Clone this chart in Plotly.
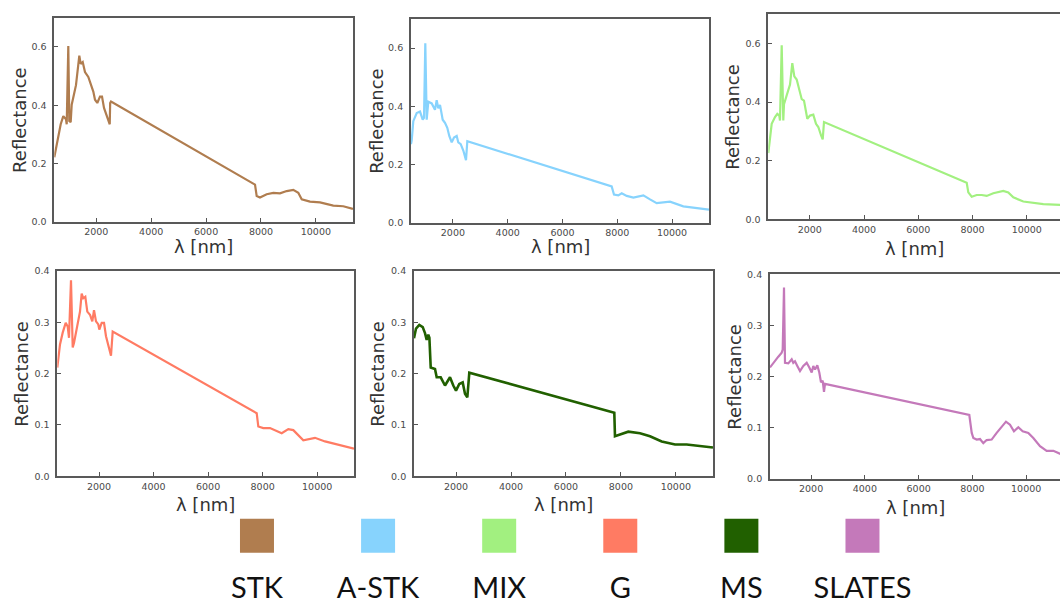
import plotly.graph_objects as go

# ---- spectra (wavelength in nm, reflectance) ----
wl_stk = [470, 616, 703, 798, 896, 922, 980, 1016, 1067, 1104, 1260, 1381, 1432, 1505, 1588, 1709,
          1771, 1832, 1891, 1953, 2036, 2135, 2208, 2281, 2353, 2437, 2490, 2505, 2535, 7782, 7843,
          7963, 8207, 8448, 8692, 8936, 9177, 9359, 9483, 9785, 10150, 10634, 10998, 11350]
r_stk = [0.222, 0.302, 0.335, 0.363, 0.352, 0.335, 0.603, 0.346, 0.342, 0.402, 0.469, 0.570, 0.542,
         0.548, 0.514, 0.497, 0.480, 0.464, 0.447, 0.419, 0.408, 0.430, 0.430, 0.391, 0.374, 0.352,
         0.335, 0.408, 0.413, 0.128, 0.089, 0.084, 0.095, 0.100, 0.098, 0.106, 0.110, 0.100, 0.078,
         0.070, 0.067, 0.056, 0.054, 0.045]

wl_astk = [470, 495, 554, 678, 799, 897, 945, 992, 1043, 1102, 1226, 1346, 1408, 1467, 1529, 1627,
           1711, 1795, 1868, 1956, 2040, 2138, 2197, 2285, 2380, 2478, 2526, 7797, 7881, 8039, 8163,
           8346, 8589, 8954, 9196, 9440, 9926, 10412, 11350]
r_astk = [0.270, 0.282, 0.349, 0.377, 0.382, 0.354, 0.360, 0.617, 0.354, 0.416, 0.410, 0.388, 0.421,
          0.393, 0.405, 0.354, 0.343, 0.326, 0.298, 0.276, 0.293, 0.298, 0.276, 0.270, 0.248, 0.215,
          0.280, 0.125, 0.097, 0.094, 0.101, 0.092, 0.086, 0.094, 0.080, 0.067, 0.072, 0.056, 0.045]

wl_mix = [470, 595, 717, 802, 876, 901, 964, 1023, 1049, 1171, 1270, 1355, 1429, 1517, 1602, 1702,
          1786, 1830, 1908, 2008, 2129, 2229, 2314, 2413, 2476, 2524, 7786, 7845, 7970, 8154, 8339,
          8523, 8766, 9135, 9319, 9504, 9873, 10610, 11229, 11350]
r_mix = [0.226, 0.326, 0.349, 0.360, 0.354, 0.337, 0.594, 0.337, 0.393, 0.427, 0.460, 0.533, 0.488,
         0.477, 0.444, 0.410, 0.405, 0.380, 0.343, 0.354, 0.357, 0.326, 0.315, 0.287, 0.273, 0.332,
         0.125, 0.092, 0.077, 0.083, 0.083, 0.080, 0.089, 0.097, 0.092, 0.075, 0.061, 0.052, 0.050,
         0.049]

wl_g = [470, 569, 668, 778, 851, 899, 972, 1035, 1082, 1156, 1240, 1302, 1364, 1423, 1497, 1570,
        1669, 1753, 1816, 1889, 1974, 2010, 2098, 2183, 2256, 2340, 2439, 2501, 7782, 7841, 8024,
        8270, 8515, 8699, 8941, 9124, 9491, 9920, 10287, 10716, 11350]
r_g = [0.212, 0.257, 0.280, 0.299, 0.292, 0.270, 0.382, 0.251, 0.260, 0.283, 0.308, 0.321, 0.356,
       0.347, 0.350, 0.321, 0.315, 0.302, 0.324, 0.302, 0.296, 0.286, 0.299, 0.299, 0.273, 0.257,
       0.235, 0.282, 0.123, 0.097, 0.094, 0.094, 0.088, 0.084, 0.092, 0.090, 0.070, 0.075, 0.068,
       0.062, 0.054]

wl_ms = [470, 543, 663, 787, 870, 932, 990, 1030, 1078, 1234, 1296, 1442, 1598, 1780, 1900, 1998,
         2118, 2242, 2326, 2410, 2483, 7759, 7784, 7941, 8269, 8694, 9058, 9484, 9968, 10393, 10757,
         11350]
r_ms = [0.269, 0.288, 0.295, 0.291, 0.279, 0.266, 0.276, 0.270, 0.212, 0.209, 0.193, 0.193, 0.177,
        0.193, 0.177, 0.167, 0.180, 0.183, 0.161, 0.154, 0.202, 0.124, 0.078, 0.081, 0.087, 0.084,
        0.078, 0.068, 0.062, 0.062, 0.060, 0.056]

wl_slates = [470, 594, 779, 905, 942, 991, 1028, 1151, 1277, 1337, 1400, 1486, 1586, 1709, 1835,
             1932, 2021, 2081, 2144, 2230, 2304, 2367, 2430, 2479, 2516, 7885, 7937, 7975, 8035,
             8159, 8282, 8406, 8530, 8716, 8903, 9089, 9249, 9398, 9546, 9707, 9871, 10080, 10266,
             10515, 10764, 11012, 11259, 11350]
r_slates = [0.218, 0.227, 0.239, 0.247, 0.253, 0.374, 0.227, 0.226, 0.234, 0.227, 0.230, 0.221,
            0.211, 0.221, 0.227, 0.218, 0.208, 0.221, 0.214, 0.222, 0.208, 0.189, 0.192, 0.170,
            0.186, 0.125, 0.102, 0.090, 0.080, 0.077, 0.078, 0.070, 0.076, 0.077, 0.090, 0.103,
            0.112, 0.106, 0.093, 0.101, 0.093, 0.090, 0.080, 0.064, 0.055, 0.055, 0.048, 0.047]

classes = ["STK", "A-STK", "MIX", "G", "MS", "SLATES"]
colors = ["#b07d4f", "#87d3fd", "#a2f080", "#ff7b63", "#216000", "#c479ba"]
spectra = [(wl_stk, r_stk), (wl_astk, r_astk), (wl_mix, r_mix),
           (wl_g, r_g), (wl_ms, r_ms), (wl_slates, r_slates)]

x_ticks = [2000, 4000, 6000, 8000, 10000]
y_ticks_top = [0.0, 0.2, 0.4, 0.6]
y_ticks_bottom = [0.0, 0.1, 0.2, 0.3, 0.4]

# ---- panel layout (pixel frame of each axes box) ----
W, H = 1060, 605
frames = [  # left, right, top, bottom, x max, y max
    (54.3, 353.0, 12.0, 220.0, 11352, 0.7),
    (411.0, 709.0, 13.3, 220.7, 11350, 0.7),
    (768.3, 1060.0, 8.3, 217.3, 11226, 0.7),
    (57.3, 354.0, 270.0, 479.0, 11350, 0.4),
    (414.0, 713.0, 270.0, 479.0, 11351, 0.4),
    (770.0, 1060.0, 273.3, 481.7, 11259, 0.4),
]
ylab_x = [20, 377, 733, 22, 378, 735]
xlab_y = [245, 245, 247, 508, 508, 511]

fig = go.Figure()
annotations = []
tick_font = dict(family="DejaVu Sans", size=9.5, color="#4a4a4a")
title_font = dict(family="DejaVu Sans", size=18, color="#333333")

for i, ((wl, r), col, fr) in enumerate(zip(spectra, colors, frames)):
    n = "" if i == 0 else str(i + 1)
    left, right, top, bottom, xmax, ymax = fr
    lw = 2.6 if classes[i] == "MS" else 2.2
    fig.add_trace(go.Scatter(x=wl, y=r, mode="lines", line=dict(color=col, width=lw),
                             xaxis="x" + n, yaxis="y" + n, showlegend=False,
                             hoverinfo="skip"))
    cut = right >= W  # axes box runs past the right edge
    fig.layout["xaxis" + n] = dict(
        domain=[left / W, right / W], anchor="y" + n, range=[470, xmax],
        tickvals=x_ticks, ticktext=[str(v) for v in x_ticks], ticks="inside", ticklen=4,
        tickcolor="#555", showline=True, mirror=True, linecolor="#595959", linewidth=1.8,
        showgrid=False, zeroline=False, tickfont=tick_font, ticklabelstandoff=0)
    yt = y_ticks_top if ymax > 0.5 else y_ticks_bottom
    fig.layout["yaxis" + n] = dict(
        domain=[(H - bottom) / H, (H - top) / H], anchor="x" + n, range=[0, ymax],
        tickvals=yt, ticktext=[f"{v:.1f}" for v in yt], ticks="inside", ticklen=4,
        tickcolor="#555", showline=True, mirror=(not cut), linecolor="#595959", linewidth=1.8,
        showgrid=False, zeroline=False, tickfont=tick_font, ticklabelstandoff=4)
    annotations.append(dict(text="Reflectance", x=ylab_x[i] / W, y=(H - (top + bottom) / 2) / H,
                            xref="paper", yref="paper", textangle=-90, showarrow=False,
                            font=title_font, xanchor="center", yanchor="middle"))
    annotations.append(dict(text="λ [nm]", x=(left + min(right, left + 298)) / 2 / W,
                            y=(H - xlab_y[i]) / H, xref="paper", yref="paper",
                            showarrow=False, font=title_font, xanchor="center",
                            yanchor="middle"))

# ---- class key: colour swatches with names below ----
idx = list(range(len(classes)))
fig.add_trace(go.Scatter(x=idx, y=[1] * len(idx), mode="markers", xaxis="x7", yaxis="y7",
                         marker=dict(symbol="square", size=34, color=colors,
                                     line=dict(width=0)),
                         showlegend=False, hoverinfo="skip"))
fig.add_trace(go.Scatter(x=idx, y=[-0.2] * len(idx), mode="text", text=classes, xaxis="x7",
                         yaxis="y7", textfont=dict(family="Lato", size=29, color="#111111"),
                         textposition="middle center", showlegend=False, hoverinfo="skip"))
fig.layout["xaxis7"] = dict(domain=[0, 1], anchor="y7", range=[-2.122, 6.631], visible=False)
fig.layout["yaxis7"] = dict(domain=[0, 0.2], anchor="x7", range=[-0.394, 2.181], visible=False)

fig.update_layout(width=W, height=H, margin=dict(l=0, r=0, t=0, b=0),
                  paper_bgcolor="white", plot_bgcolor="white", annotations=annotations)

fig.write_html("out.html", config={"displayModeBar": False})
